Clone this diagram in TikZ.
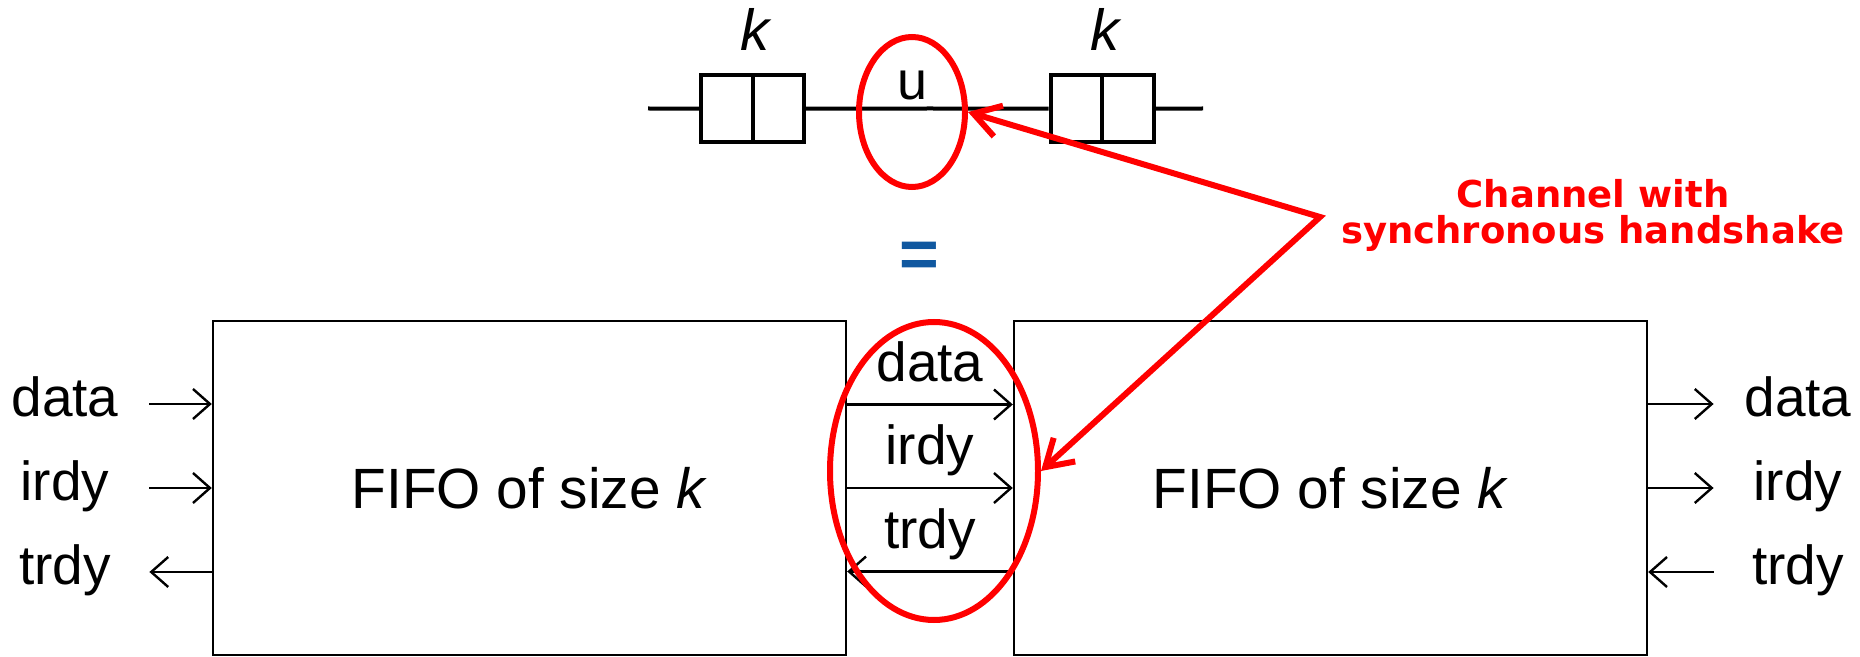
\documentclass[tikz,border=0pt]{standalone}
\usepackage{fontspec}
\setmainfont{Liberation Sans}
\newfontfamily\notefont{DejaVu Sans}
\usetikzlibrary{arrows.meta,positioning,shapes.geometric,calc}
\definecolor{chanred}{RGB}{255,0,0}
\definecolor{eqblue}{RGB}{16,88,160}

\begin{document}
\begin{tikzpicture}[x=0.5pt, y=-0.5pt,
  fifo/.style={draw, line width=1.2pt, minimum width=316.5pt, minimum height=167pt,
               inner sep=0pt, font=\fontsize{28.4}{34}\selectfont},
  slot/.style={draw, line width=2pt, minimum width=51.5pt, minimum height=33.5pt, inner sep=0pt},
  sidelbl/.style={minimum width=84pt, inner xsep=0pt, text height=20pt, text depth=7pt,
                  font=\fontsize{27.5}{33}\selectfont},
  midlbl/.style={above=4pt, inner sep=0pt, text height=20pt, text depth=7pt,
                 font=\fontsize{27.5}{33}\selectfont},
  sig/.style={line width=1.2pt, -{Straight Barb[length=8.5pt, width=15pt]}},
  chan/.style={draw=chanred, ellipse, line width=3pt, inner sep=0pt},
  redarr/.style={chanred, line width=3pt,
                 {Straight Barb[length=13pt, width=16pt]}-{Straight Barb[length=13pt, width=16pt]}},
  note/.style={text=chanred, align=center, font=\notefont\bfseries\fontsize{18.5}{18}\selectfont},
]
\useasboundingbox (0,0) rectangle (1860,657);

% top: two buffers joined by a channel
\node[slot] (slotL) at (752.7,108.7) {};
\node[slot] (slotR) at (1102,108.7) {};
\draw[line width=2pt] (slotL.north) -- (slotL.south);
\draw[line width=2pt] (slotR.north) -- (slotR.south);
\coordinate (inL) at (648,108.5);
\coordinate (join) at (930,108.5);
\coordinate (outR) at (1203,108.5);
\draw[line width=2pt] (inL) -- (slotL.west) (slotL.east) -- (join) -- (slotR.west) (slotR.east) -- (outR);
\node[inner sep=0pt, above=11pt of slotL, xshift=2pt, font=\fontsize{29}{34}\selectfont] (kL) {\textit{k}};
\node[inner sep=0pt, above=11pt of slotR, xshift=2pt, font=\fontsize{29}{34}\selectfont] (kR) {\textit{k}};
\node[anchor=base, inner sep=0pt, font=\fontsize{27}{32}\selectfont] (uLbl) at (913,100) {u};

\node[text=eqblue, anchor=base, font=\bfseries\fontsize{34}{40}\selectfont] (eqSign) at (919.5,278) {=};

% bottom: two FIFOs
\node[fifo] (fifoL) at (529.5,488) {FIFO of size \textit{k}};
\node[fifo] (fifoR) at (1330.5,488) {FIFO of size \textit{k}};

\foreach \sg/\yy in {data/404, irdy/488}{
  \node[sidelbl] (l-\sg) at (65,\yy) {\sg};
  \draw[sig] (l-\sg) -- (l-\sg -| fifoL.west);
  \node[sidelbl] (r-\sg) at (1798,\yy) {\sg};
  \draw[sig] (r-\sg -| fifoR.east) -- (r-\sg);
}
\node[sidelbl] (l-trdy) at (65,572) {trdy};
\draw[sig] (l-trdy -| fifoL.west) -- (l-trdy);
\node[sidelbl] (r-trdy) at (1798,572) {trdy};
\draw[sig] (r-trdy) -- (r-trdy -| fifoR.east);

\draw[sig] ([yshift=41.75pt]fifoL.east) -- node[midlbl] {data} ([yshift=41.75pt]fifoL.east -| fifoR.west);
\draw[sig] (fifoL.east) -- node[midlbl] {irdy} (fifoR.west);
\draw[sig] ([yshift=-41.75pt]fifoR.west) -- node[midlbl] {trdy} ([yshift=-41.75pt]fifoR.west -| fifoL.east);

% channel marks and note
\node[chan, minimum width=53pt, minimum height=75pt] (chanTop) at (912,112) {};
\node[chan, minimum width=104pt, minimum height=149pt] (chanBot) at (934,471) {};
\coordinate (hub) at (1320,217);
\draw[redarr] (chanTop.east) -- (hub) -- (chanBot.east);
\node[note] (noteTxt) at (1593,215) {Channel with\\synchronous handshake};
\end{tikzpicture}
\end{document}
